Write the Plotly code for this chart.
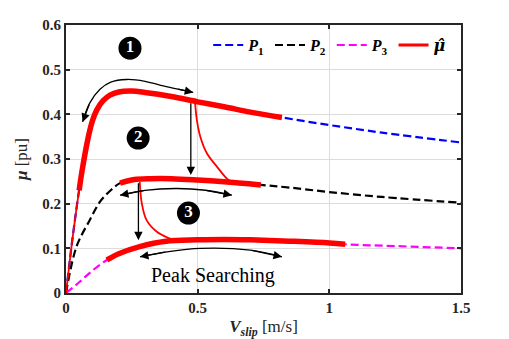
import plotly.graph_objects as go

# friction curves
p1_x = [0, 0.02, 0.04, 0.06, 0.085, 0.1, 0.117, 0.14, 0.167, 0.2, 0.25, 0.3, 0.4, 0.5, 0.6, 0.7, 0.82, 1.0, 1.2, 1.5]
p1_mu = [0, 0.10, 0.19, 0.27, 0.35, 0.385, 0.41, 0.43, 0.443, 0.45, 0.452, 0.449, 0.44, 0.428, 0.417, 0.405, 0.393, 0.376, 0.359, 0.337]

p2_x = [0, 0.04, 0.09, 0.13, 0.17, 0.205, 0.26, 0.32, 0.4, 0.5, 0.6, 0.74, 0.85, 1.0, 1.2, 1.5]
p2_mu = [0, 0.104, 0.163, 0.205, 0.23, 0.246, 0.254, 0.256, 0.256, 0.253, 0.249, 0.242, 0.236, 0.226, 0.215, 0.202]

p3_x = [0, 0.05, 0.1, 0.155, 0.2, 0.28, 0.38, 0.5, 0.6, 0.7, 0.85, 1.0, 1.06, 1.2, 1.5]
p3_mu = [0, 0.024, 0.05, 0.074, 0.088, 0.104, 0.116, 0.119, 0.12, 0.119, 0.116, 0.112, 0.109, 0.106, 0.100]

# estimated friction mu_hat: thick parts sit on the curves, thin parts are the transitions
hat_thick_x = [0.05, 0.06, 0.085, 0.1, 0.117, 0.14, 0.167, 0.2, 0.25, 0.3, 0.4, 0.5, 0.6, 0.7, 0.82, None,
               0.205, 0.26, 0.32, 0.4, 0.5, 0.6, 0.74, None,
               0.155, 0.2, 0.28, 0.38, 0.5, 0.6, 0.7, 0.85, 1.0, 1.06]
hat_thick_mu = [0.23, 0.27, 0.35, 0.385, 0.41, 0.43, 0.443, 0.45, 0.452, 0.449, 0.44, 0.428, 0.417, 0.405, 0.393, None,
                0.246, 0.254, 0.256, 0.256, 0.253, 0.249, 0.242, None,
                0.074, 0.088, 0.104, 0.116, 0.119, 0.12, 0.119, 0.116, 0.112, 0.109]
hat_thin_x = [0, 0.02, 0.04, 0.05, None,
              0.49, 0.497, 0.51, 0.535, 0.573, 0.617, 0.64, None,
              0.28, 0.288, 0.306, 0.345, 0.39, 0.42]
hat_thin_mu = [0, 0.10, 0.19, 0.23, None,
               0.428, 0.387, 0.35, 0.313, 0.283, 0.253, 0.248, None,
               0.249, 0.2, 0.163, 0.137, 0.123, 0.117]

# stage markers
stage_labels = ["1", "2", "3"]
stage_x = [0.243, 0.274, 0.465]
stage_mu = [0.548, 0.347, 0.179]

SERIF = "Liberation Serif, Times New Roman, serif"

fig = go.Figure()
fig.add_trace(go.Scatter(x=p1_x, y=p1_mu, mode="lines", line=dict(color="#0000ff", width=2.2, dash="8px,4px", shape="spline"),
                         name="<b><i>P</i><sub>1</sub></b>"))
fig.add_trace(go.Scatter(x=p2_x, y=p2_mu, mode="lines", line=dict(color="#000000", width=2.2, dash="8px,4px", shape="spline"),
                         name="<b><i>P</i><sub>2</sub></b>"))
fig.add_trace(go.Scatter(x=p3_x, y=p3_mu, mode="lines", line=dict(color="#ff00ff", width=2.2, dash="8px,4px", shape="spline"),
                         name="<b><i>P</i><sub>3</sub></b>"))
fig.add_trace(go.Scatter(x=hat_thin_x, y=hat_thin_mu, mode="lines", line=dict(color="#ff0000", width=1.8, shape="spline"),
                         showlegend=False))
fig.add_trace(go.Scatter(x=hat_thick_x, y=hat_thick_mu, mode="lines", line=dict(color="#ff0000", width=5.5, shape="spline"),
                         showlegend=False))
fig.add_trace(go.Scatter(x=[None], y=[None], mode="lines", line=dict(color="#ff0000", width=3),
                         name="<b><i><span style='font-family:DejaVu Serif'>μ̂</span></i></b>"))

# curved double arrows
arcs = [
    [(0.063, 0.383), (0.09, 0.425), (0.129, 0.456), (0.17, 0.472), (0.23, 0.478), (0.3, 0.474), (0.36, 0.465), (0.42, 0.457), (0.483, 0.449)],
    [(0.205, 0.219), (0.3, 0.23), (0.42, 0.234), (0.53, 0.23), (0.63, 0.219)],
    [(0.281, 0.081), (0.383, 0.092), (0.51, 0.1), (0.70, 0.096), (0.82, 0.081)],
]
for pts in arcs:
    fig.add_trace(go.Scatter(x=[p[0] for p in pts], y=[p[1] for p in pts], mode="lines",
                             line=dict(color="black", width=1.3, shape="spline"), showlegend=False))
    for tip, tail in [(pts[0], pts[1]), (pts[-1], pts[-2])]:
        fig.add_annotation(x=tip[0], y=tip[1], ax=tail[0], ay=tail[1], axref="x", ayref="y",
                           showarrow=True, arrowhead=2, arrowsize=1.3, arrowwidth=1.3, arrowcolor="black", text="")

# straight down arrows
for x0, y0, y1 in [(0.474, 0.428, 0.264), (0.275, 0.249, 0.118)]:
    fig.add_annotation(x=x0, y=y1, ax=x0, ay=y0, axref="x", ayref="y", showarrow=True,
                       arrowhead=2, arrowsize=1.3, arrowwidth=1.3, arrowcolor="black", text="")

fig.add_trace(go.Scatter(x=stage_x, y=stage_mu, mode="markers+text", text=[f"<b>{s}</b>" for s in stage_labels],
                         textposition="middle center", marker=dict(size=23, color="black"),
                         textfont=dict(family=SERIF, size=17, color="white"), showlegend=False))

fig.add_annotation(x=0.559, y=0.04, text="Peak Searching", showarrow=False,
                   font=dict(family=SERIF, size=20, color="black"))

axis_common = dict(showline=True, linewidth=2, linecolor="#262626", mirror="allticks", ticks="inside", ticklen=4,
                   tickwidth=1.5, tickcolor="#262626", showgrid=True, gridcolor="#dcdcdc", gridwidth=1.3,
                   zeroline=False, automargin=False, tickfont=dict(family=SERIF, size=15, color="#262626"))
fig.update_xaxes(range=[0, 1.5], tickvals=[0, 0.5, 1, 1.5], ticktext=["<b>0</b>", "<b>0.5</b>", "<b>1</b>", "<b>1.5</b>"],
                 title=dict(text="<b><i>V</i><sub><i>slip</i></sub></b> [m/s]", font=dict(family=SERIF, size=17, color="#262626"), standoff=8),
                 **axis_common)
fig.update_yaxes(range=[0, 0.6], tickvals=[0, 0.1, 0.2, 0.3, 0.4, 0.5, 0.6],
                 ticktext=["<b>0</b>", "<b>0.1</b>", "<b>0.2</b>", "<b>0.3</b>", "<b>0.4</b>", "<b>0.5</b>", "<b>0.6</b>"],
                 title=dict(text="<b><i>μ</i></b> [pu]", font=dict(family=SERIF, size=17, color="#262626"), standoff=10),
                 **axis_common)
fig.update_layout(width=501, height=331, margin=dict(l=58, r=48, t=17, b=46),
                  plot_bgcolor="white", paper_bgcolor="white",
                  legend=dict(orientation="h", x=0.36, y=0.925, xanchor="left", yanchor="middle",
                              bgcolor="rgba(0,0,0,0)", font=dict(family=SERIF, size=16, color="black"),
                              itemwidth=30, tracegroupgap=0))
fig.write_html("out.html")
